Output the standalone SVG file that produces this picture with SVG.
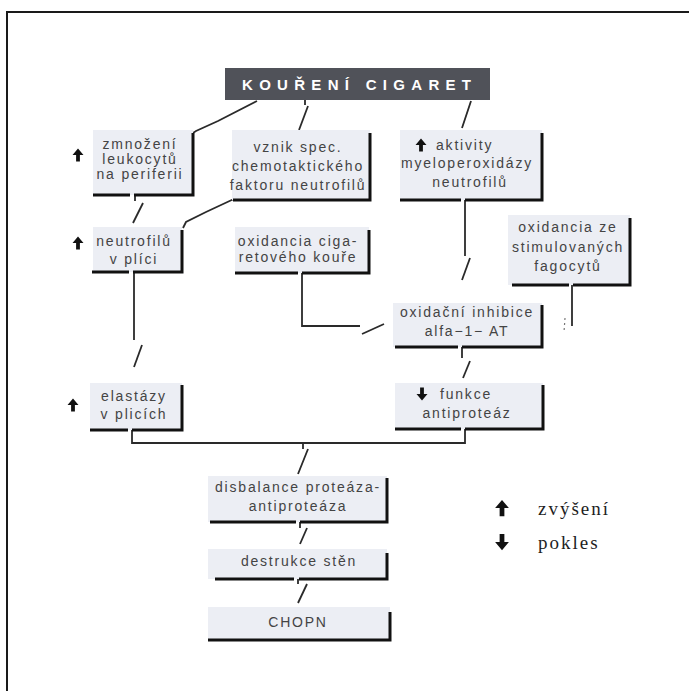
<svg xmlns="http://www.w3.org/2000/svg" width="689" height="691" viewBox="0 0 689 691">
<style>
.bg{fill:#ffffff}
.frame{stroke:#1a1a1a;stroke-width:2;fill:none}
.box{fill:#eceef4}
.sh{stroke:#111;stroke-width:3;fill:none}
.con{stroke:#2a2a2a;stroke-width:1.8;fill:none}
.t{font-family:"Liberation Sans",Arial,sans-serif;font-size:14px;letter-spacing:1.8px;fill:#444;text-anchor:middle}
.ts{font-family:"Liberation Sans",Arial,sans-serif;font-size:14px;letter-spacing:1.8px;fill:#444}
.title{font-family:"Liberation Sans",Arial,sans-serif;font-size:15px;font-weight:bold;letter-spacing:6.3px;fill:#ffffff}
.leg{font-family:"Liberation Serif","Times New Roman",serif;font-size:19px;letter-spacing:2px;fill:#1e1e1e}
.arr{fill:#111}
</style>
<defs>
<path id="up" d="M0,-6.5 L5.5,0 L1.9,0 L1.9,6.5 L-1.9,6.5 L-1.9,0 L-5.5,0 Z"/>
<path id="down" d="M0,6.5 L5.5,0 L1.9,0 L1.9,-6.5 L-1.9,-6.5 L-1.9,0 L-5.5,0 Z"/>
</defs>
<rect class="bg" x="0" y="0" width="689" height="691"/>
<path class="frame" d="M7,691 V12 H689"/>

<g id="connectors">
<polyline class="con" points="257,101 218,121 196,131 193,133"/>
<line class="con" x1="305" y1="100" x2="305" y2="105"/>
<line class="con" x1="308" y1="106" x2="299" y2="130"/>
<line class="con" x1="471" y1="101" x2="462" y2="128"/>
<line class="con" x1="135" y1="195" x2="135" y2="201"/>
<line class="con" x1="143" y1="203" x2="133" y2="223"/>
<polyline class="con" points="236,198 206,212 186,222 183,228"/>
<line class="con" x1="465" y1="200" x2="465" y2="256"/>
<line class="con" x1="470" y1="258" x2="462" y2="280"/>
<line class="con" x1="572" y1="285" x2="572" y2="326"/>
<line x1="565" y1="318" x2="564" y2="332" stroke="#777" stroke-width="1.2" stroke-dasharray="2,3"/>
<polyline class="con" points="302,273 302,326 360,326"/>
<line class="con" x1="362" y1="334" x2="384" y2="324"/>
<line class="con" x1="462" y1="347" x2="462" y2="358"/>
<line class="con" x1="470" y1="361" x2="463" y2="378"/>
<line class="con" x1="134" y1="272" x2="134" y2="340"/>
<line class="con" x1="142" y1="345" x2="134" y2="367"/>
<polyline class="con" points="132,430 132,443 465,443 465,429"/>
<line class="con" x1="303" y1="443" x2="303" y2="449"/>
<line class="con" x1="308" y1="449" x2="298" y2="474"/>
<line class="con" x1="300" y1="522" x2="300" y2="528"/>
<line class="con" x1="307" y1="528" x2="300" y2="544"/>
<line class="con" x1="298" y1="579" x2="298" y2="584"/>
<line class="con" x1="307" y1="584" x2="298" y2="603"/>
</g>

<g id="n_title">
<rect x="225" y="68" width="265" height="32" fill="#505259"/>
<text class="title" x="242" y="90">KOUŘENÍ CIGARET</text>
</g>

<g id="n_leukocyty">
<rect class="box" x="93" y="130" width="100" height="65"/>
<path class="sh" d="M193,133 V195 H134 M130,195 H93"/>
<text class="t" x="140" y="149">zmnožení</text>
<text class="t" x="140" y="164">leukocytů</text>
<text class="t" x="140" y="179">na periferii</text>
<use href="#up" class="arr" x="78" y="155"/>
</g>

<g id="n_faktor">
<rect class="box" x="232" y="130" width="138" height="70"/>
<path class="sh" d="M370,133 V200 H233"/>
<text class="t" x="298" y="152">vznik spec.</text>
<text class="t" x="298" y="171">chemotaktického</text>
<text class="t" x="298" y="190">faktoru neutrofilů</text>
</g>

<g id="n_myelo">
<rect class="box" x="400" y="130" width="142" height="70"/>
<path class="sh" d="M542,133 V200 H465 M461,200 H400"/>
<use href="#up" class="arr" x="421" y="145"/>
<text class="ts" x="436" y="150">aktivity</text>
<text class="t" x="467" y="168">myeloperoxidázy</text>
<text class="t" x="470" y="187">neutrofilů</text>
</g>

<g id="n_fagocyty">
<rect class="box" x="508" y="215" width="122" height="70"/>
<path class="sh" d="M630,218 V285 H573 M569,285 H512"/>
<text class="t" x="568" y="232">oxidancia ze</text>
<text class="t" x="568" y="252">stimulovaných</text>
<text class="t" x="568" y="271">fagocytů</text>
</g>

<g id="n_neutrofily">
<rect class="box" x="93" y="227" width="89" height="45"/>
<path class="sh" d="M182,230 V272 H133 M129,272 H92"/>
<text class="t" x="134" y="246">neutrofilů</text>
<text class="t" x="134" y="264">v plíci</text>
<use href="#up" class="arr" x="78" y="243"/>
</g>

<g id="n_kour">
<rect class="box" x="235" y="227" width="134" height="46"/>
<path class="sh" d="M369,230 V273 H302 M298,273 H235"/>
<text class="t" x="298" y="246">oxidancia ciga-</text>
<text class="t" x="298" y="262">retového kouře</text>
</g>

<g id="n_inhibice">
<rect class="box" x="393" y="303" width="149" height="44"/>
<path class="sh" d="M542,305 V347 H462 M458,347 H395"/>
<text class="t" x="467" y="317">oxidační inhibice</text>
<text class="t" x="467" y="336">alfa−1− AT</text>
</g>

<g id="n_funkce">
<rect class="box" x="395" y="383" width="148" height="46"/>
<path class="sh" d="M543,385 V429 H465 M461,429 H395"/>
<use href="#down" class="arr" x="422" y="394"/>
<text class="ts" x="440" y="399">funkce</text>
<text class="t" x="467" y="418">antiproteáz</text>
</g>

<g id="n_elastazy">
<rect class="box" x="90" y="383" width="92" height="47"/>
<path class="sh" d="M182,385 V430 H132 M128,430 H90"/>
<text class="t" x="134" y="401">elastázy</text>
<text class="t" x="134" y="419">v plicích</text>
<use href="#up" class="arr" x="73" y="405"/>
</g>

<g id="n_disbalance">
<rect class="box" x="208" y="476" width="179" height="46"/>
<path class="sh" d="M387,478 V522 H300 M296,522 H210"/>
<text class="t" x="298" y="492">disbalance proteáza-</text>
<text class="t" x="298" y="511">antiproteáza</text>
</g>

<g id="n_destrukce">
<rect class="box" x="208" y="549" width="179" height="30"/>
<path class="sh" d="M387,553 V579 H299 M294,579 H215"/>
<text class="t" x="299" y="566">destrukce stěn</text>
</g>

<g id="n_chopn">
<rect class="box" x="208" y="607" width="182" height="33"/>
<path class="sh" d="M390,612 V640 H208"/>
<text class="t" x="298" y="627">CHOPN</text>
</g>

<g id="legend">
<use href="#up" class="arr" transform="translate(502,508) scale(1.25)"/>
<text class="leg" x="538" y="515">zvýšení</text>
<use href="#down" class="arr" transform="translate(502,542) scale(1.25)"/>
<text class="leg" x="538" y="549">pokles</text>
</g>
</svg>
